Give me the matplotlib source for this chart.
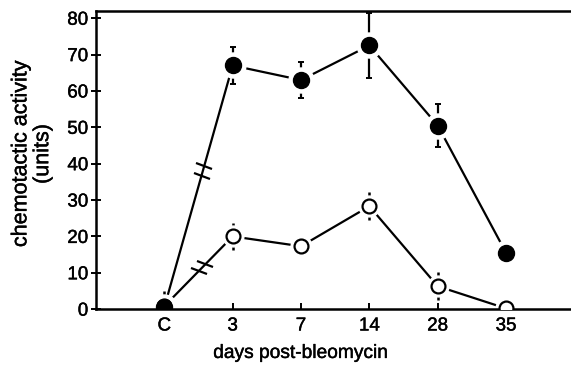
import numpy as np
import matplotlib
matplotlib.use("Agg")
import matplotlib.pyplot as plt
import matplotlib.patheffects as pe
from matplotlib.markers import MarkerStyle
from matplotlib.transforms import Affine2D

plt.rcParams['font.family'] = ['Liberation Sans', 'DejaVu Sans']

# categories on the x axis
days = ['C', '3', '7', '14', '28', '35']
xpos = np.arange(1, len(days) + 1)

# filled circles
filled = [0.5, 67, 63, 72.5, 50.5, 15.5]
filled_err = [0, 5, 5, 9, 6, 0]

# open circles
opened = [0.8, 20, 17.3, 28.3, 6.3, 0.2]
opened_err = [4.2, 3.8, 0, 3.8, 3.8, 0]

fig = plt.figure(figsize=(5.71, 3.65), dpi=100)
ax = fig.add_axes([0.168, 0.153, 0.832, 0.817])

lw = 1.6
# lines and error bars
ax.errorbar(xpos, filled, yerr=filled_err, color='black', lw=lw, capsize=2,
            elinewidth=1.6, capthick=1.4, zorder=2)
ax.errorbar(xpos, opened, yerr=opened_err, color='black', lw=lw, capsize=0,
            elinewidth=1.8, zorder=2)

# white halos so lines stop short of the markers
ax.plot(xpos, filled, 'o', ms=18, color='white', zorder=2.2)
ax.plot(xpos, opened, 'o', ms=15, color='white', zorder=2.2)

ax.plot(xpos, opened, 'o', ms=10, mfc='white', mec='black', mew=1.6, zorder=3)
ax.plot(xpos, filled, 'o', ms=11.5, color='black', zorder=3.1)

# break marks on the first segment
brk = MarkerStyle('_', transform=Affine2D().rotate_deg(-18))
for ser, ts in ((filled, [0.545, 0.585]), (opened, [0.51, 0.6])):
    for t in ts:
        bx = xpos[0] + t * (xpos[1] - xpos[0])
        by = ser[0] + t * (ser[1] - ser[0])
        ax.plot(bx, by, marker=brk, ms=12, mew=1.6, color='black', zorder=4)

ax.set_xlim(0, 6.95)
ax.set_ylim(0, 82)
ax.set_xticks(xpos)
ax.set_xticklabels(days)
ax.set_yticks(np.arange(0, 81, 10))

ax.spines['right'].set_visible(False)
for s in ('left', 'bottom', 'top'):
    ax.spines[s].set_linewidth(1.8)
    ax.spines[s].set_zorder(2.5)

ax.tick_params(axis='x', direction='in', length=4, width=1.4, labelsize=13.5, pad=6)
ax.tick_params(axis='y', direction='inout', length=7, width=1.4, labelsize=13.5, pad=2)

ax.set_ylabel('chemotactic activity\n(units)', fontsize=15.5, linespacing=1.05)
ax.yaxis.set_label_coords(-0.09, 0.52)
ax.set_xlabel('days post-bleomycin', fontsize=13.8)
ax.xaxis.set_label_coords(0.43, -0.12)

stroke = [pe.withStroke(linewidth=0.3, foreground='black')]
for t in ax.get_xticklabels() + ax.get_yticklabels() + [ax.xaxis.label, ax.yaxis.label]:
    t.set_path_effects(stroke)

plt.savefig('out.png', dpi=100)
